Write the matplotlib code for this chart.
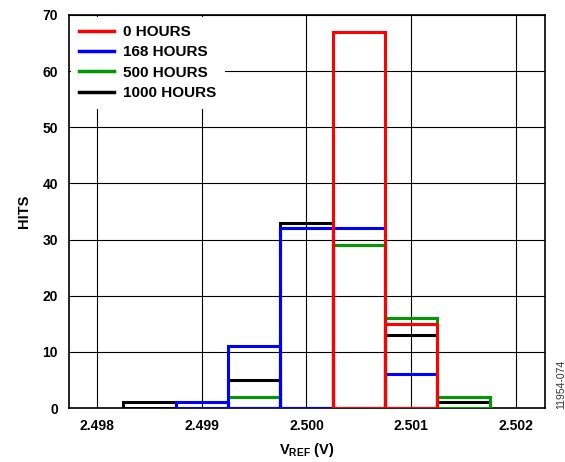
import numpy as np
import matplotlib.pyplot as plt

plt.rcParams['font.family'] = ['Liberation Sans', 'DejaVu Sans']
plt.rcParams['font.weight'] = 'bold'
plt.rcParams['axes.labelweight'] = 'bold'
plt.rcParams['mathtext.fontset'] = 'custom'
plt.rcParams['mathtext.rm'] = 'Liberation Sans:bold'
plt.rcParams['mathtext.bf'] = 'Liberation Sans:bold'

# bin edges (V) and hit counts per bin
bin_left = [2.49825, 2.49875, 2.49925, 2.49975, 2.50025, 2.50075, 2.50125]
bin_width = 0.0005

hits_0h = [0, 0, 0, 0, 67, 15, 0]
hits_168h = [0, 1, 11, 32, 32, 6, 0]
hits_500h = [0, 0, 2, 32, 29, 16, 2]
hits_1000h = [1, 0, 5, 33, 29, 13, 1]

series = [
    ("1000 HOURS", hits_1000h, "#000000"),
    ("500 HOURS", hits_500h, "#009900"),
    ("168 HOURS", hits_168h, "#0000ff"),
    ("0 HOURS", hits_0h, "#ff0000"),
]

fig = plt.figure(figsize=(5.65, 4.62), dpi=100)
ax = fig.add_axes([69 / 565, 1 - 408 / 462, (545 - 69) / 565, (408 - 15) / 462])

for label, vals, col in series:
    left = [l for l, v in zip(bin_left, vals) if v > 0]
    h = [v for v in vals if v > 0]
    ax.bar(left, h, width=bin_width, align='edge', fill=False,
           edgecolor=col, linewidth=2.2, zorder=3)

# legend handles in the reference order
handles = [plt.Line2D([], [], color=c, linewidth=2.5) for _, _, c in series][::-1]
labels = [s[0] for s in series][::-1]
leg = ax.legend(handles, labels, loc='upper left', frameon=True, fancybox=False,
                edgecolor='none', framealpha=1, fontsize=11, handlelength=2.3,
                borderaxespad=0.1, borderpad=0.55, labelspacing=0.42, handletextpad=0.6)
leg.set_zorder(5)
leg.get_frame().set_facecolor('white')

ax.set_xlim(2.49773, 2.50228)
ax.set_ylim(0, 70)
ax.set_xticks([2.498, 2.499, 2.500, 2.501, 2.502])
ax.set_xticklabels(["2.498", "2.499", "2.500", "2.501", "2.502"])
ax.set_yticks(np.arange(0, 71, 10))
ax.tick_params(length=0, labelsize=10, pad=8)
ax.grid(True, color='black', linewidth=0.8, zorder=1)
ax.set_axisbelow(True)
for sp in ax.spines.values():
    sp.set_linewidth(1.2)

ax.set_xlabel(r"$\mathbf{V_{REF}}$ (V)", fontsize=10.5, labelpad=6)
ax.set_ylabel("HITS", fontsize=10.5, labelpad=8)

fig.text(561 / 565, 1 - 384 / 462, "11954-074", rotation=90, fontsize=7.5,
         weight='normal', color='#333333', ha='center', va='center')

fig.savefig("out.png", dpi=100)
